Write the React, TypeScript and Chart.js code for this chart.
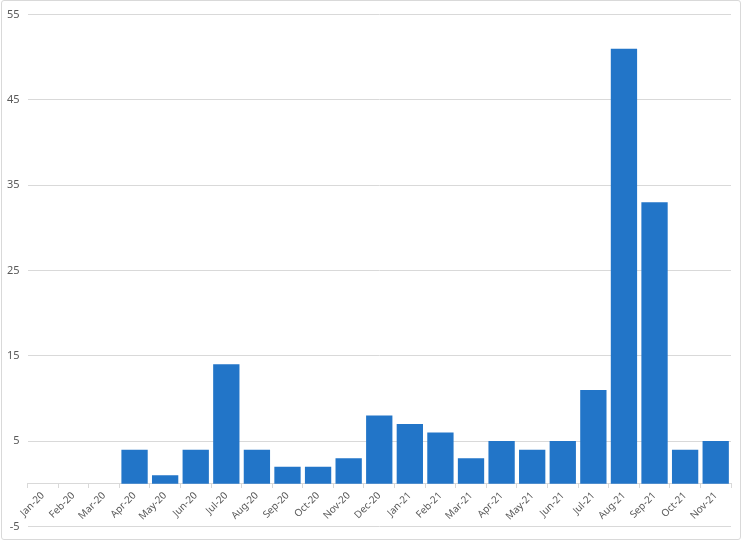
import React, { useEffect, useRef } from "react";
import { Chart, registerables } from "chart.js";

Chart.register(...registerables);

const categories = [
  "Jan-20", "Feb-20", "Mar-20", "Apr-20", "May-20", "Jun-20", "Jul-20", "Aug-20",
  "Sep-20", "Oct-20", "Nov-20", "Dec-20", "Jan-21", "Feb-21", "Mar-21", "Apr-21",
  "May-21", "Jun-21", "Jul-21", "Aug-21", "Sep-21", "Oct-21", "Nov-21",
];
const values = [0, 0, 0, 4, 1, 4, 14, 4, 2, 2, 3, 8, 7, 6, 3, 5, 4, 5, 11, 51, 33, 4, 5];
const yMin = -5;
const yMax = 55;
const yStep = 10;

export default function App() {
  const ref = useRef<HTMLCanvasElement | null>(null);
  useEffect(() => {
    document.body.style.margin = "0";
    const canvas = ref.current;
    if (!canvas) return;
    const chart = new Chart(canvas, {
      type: "bar",
      data: {
        labels: categories,
        datasets: [
          {
            data: values,
            backgroundColor: "#2275C8",
            borderWidth: 0,
            barPercentage: 0.86,
            categoryPercentage: 1,
          },
        ],
      },
      options: {
        responsive: false,
        animation: false,
        layout: { padding: { top: 13, bottom: 13, left: 0, right: 13 } },
        plugins: { legend: { display: false }, tooltip: { enabled: false } },
        scales: {
          x: {
            position: { y: 0 },
            afterFit: (s: any) => {
              s.height = 0;
            },
            grid: {
              drawOnChartArea: false,
              drawTicks: true,
              tickLength: 4,
              color: "#d9d9d9",
              offset: true,
            },
            border: { display: true, color: "#d9d9d9" },
            ticks: {
              autoSkip: false,
              maxRotation: 45,
              minRotation: 45,
              color: "#595959",
              padding: 2,
              font: { family: "'Noto Sans'", size: 10 },
            },
          },
          y: {
            min: yMin,
            max: yMax,
            afterFit: (s: any) => {
              s.width = 27.5;
            },
            grid: { color: "#d9d9d9", drawTicks: false },
            border: { display: false },
            ticks: {
              stepSize: yStep,
              color: "#595959",
              padding: 8,
              font: { family: "'Noto Sans'", size: 11 },
            },
          },
        },
      },
    });
    return () => chart.destroy();
  }, []);
  return (
    <div style={{ position: "relative", width: 744, height: 541, background: "#fff" }}>
      <canvas ref={ref} width={744} height={541} style={{ display: "block" }} />
      <div
        style={{
          position: "absolute",
          left: 1,
          top: 0,
          width: 738,
          height: 538,
          border: "1px solid #d9d9d9",
          borderRadius: 3,
          pointerEvents: "none",
        }}
      />
    </div>
  );
}
